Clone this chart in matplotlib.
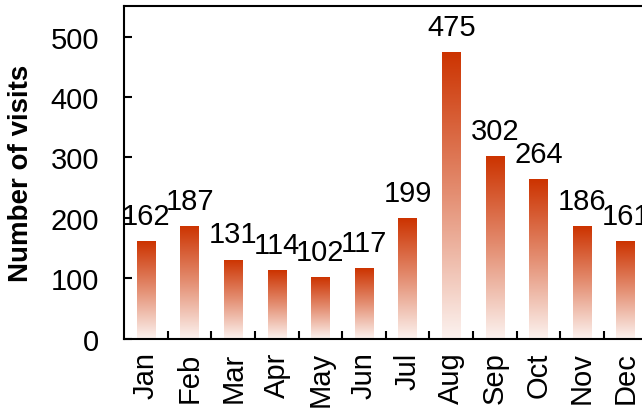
import numpy as np
import matplotlib
matplotlib.use("Agg")
import matplotlib.pyplot as plt
from matplotlib.colors import LinearSegmentedColormap

months = ["Jan", "Feb", "Mar", "Apr", "May", "Jun",
          "Jul", "Aug", "Sep", "Oct", "Nov", "Dec"]
visits = [162, 187, 131, 114, 102, 117, 199, 475, 302, 264, 186, 161]
yticks = [0, 100, 200, 300, 400, 500]

plt.rcParams["font.family"] = ["Liberation Sans", "DejaVu Sans"]

fig = plt.figure(figsize=(6.42, 4.10), dpi=100)
ax = fig.add_axes([124.2 / 642, 70.2 / 410, (647.4 - 124.2) / 642, (339.8 - 7.3) / 410])

x = np.arange(len(months))
width = 0.42

# vertical gradient: dark orange-red at the top fading to near white
cmap = LinearSegmentedColormap.from_list(
    "fade", [(0.0, "#fcf3f0"), (0.5, "#e48f73"), (1.0, "#cc3300")])
grad = np.linspace(0, 1, 256).reshape(-1, 1)

bars = ax.bar(x, visits, width=width, color="none", edgecolor="none")
for b in bars:
    x0, y0 = b.get_x(), b.get_y()
    w, h = b.get_width(), b.get_height()
    im = ax.imshow(grad, cmap=cmap, origin="lower", aspect="auto",
                   extent=(x0, x0 + w, y0, y0 + h), zorder=2)
    im.set_clip_path(b)

for xi, v in zip(x, visits):
    ax.annotate(str(v), (xi, v), xytext=(0, 8), textcoords="offset points",
                ha="center", va="bottom", fontsize=21, clip_on=True,
                annotation_clip=False)

ax.set_xlim(-0.5, len(months) - 0.5)
ax.set_ylim(0, 550)

ax.set_xticks(x)
ax.set_xticklabels(months, rotation=90, fontsize=21)
ax.set_xticks(x[:-1] + 0.5, minor=True)
ax.tick_params(axis="x", which="major", length=0, pad=9)
ax.tick_params(axis="x", which="minor", direction="in", length=6, width=1.5)

ax.set_yticks(yticks)
ax.set_yticklabels([str(t) for t in yticks], fontsize=21)
ax.tick_params(axis="y", which="major", direction="in", length=6, width=1.5, pad=18)

for s in ax.spines.values():
    s.set_linewidth(1.5)
ax.spines["right"].set_visible(False)

ax.set_ylabel("Number of visits", fontsize=20, fontweight="bold")
ax.yaxis.set_label_coords(-0.172, 0.5)

fig.savefig("out.png", dpi=100)
